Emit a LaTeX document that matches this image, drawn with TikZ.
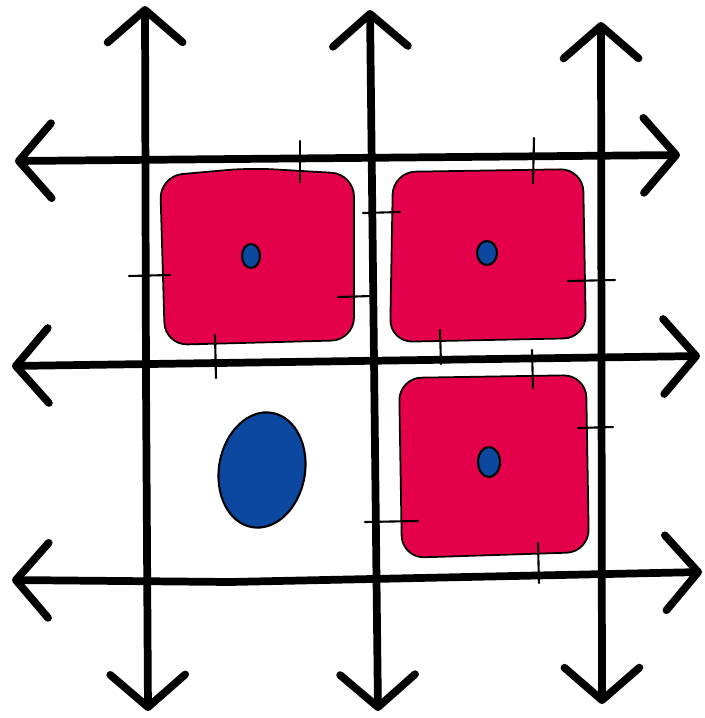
\documentclass[tikz,border=0pt]{standalone}
\usepackage{tikz}
\usetikzlibrary{arrows.meta}

\definecolor{cellred}{RGB}{228,0,74}
\definecolor{dotblue}{RGB}{12,72,160}

\begin{document}
\begin{tikzpicture}[x=0.02cm,y=-0.02cm,
        gridline/.style={line width=4.4pt,line cap=round,
            {Straight Barb[length=6.5mm,width=15mm,round]}-{Straight Barb[length=6.5mm,width=15mm,round]}},
        cell/.style={fill=cellred,draw=black,line width=1pt,rounded corners=0.45cm},
        dot/.style={fill=dotblue,draw=black,line width=1.2pt},
        tick/.style={line width=1.2pt,line cap=round}]
        \useasboundingbox (0,0) rectangle (705,718);
        \fill[white] (0,0) rectangle (705,718);

        % red cells
        \filldraw[cell] (160,176) -- (250,168) -- (354,174) -- (354,340) -- (165,345) -- cycle;
        \filldraw[cell] (393,172) -- (583,169) -- (586,338) -- (390,342) -- cycle;
        \filldraw[cell] (399,378) -- (586,375) -- (589,552) -- (402,558) -- cycle;

        % blue dots
        \filldraw[dot] (251,256) ellipse (9 and 12);
        \filldraw[dot] (487,253) ellipse (10 and 12);
        \filldraw[dot] (489,462) ellipse (11 and 15);
        \filldraw[dot,rotate around={-10:(262,470)}] (262,470) ellipse (43 and 58);

        % axes
        \draw[gridline] (148,711) -- (146,380) -- (145,6);
        \draw[gridline] (378,711) -- (374,360) -- (370,10);
        \draw[gridline] (602,704) -- (601,22);
        \draw[gridline] (15,161) -- (680,155);
        \draw[gridline] (12,366) -- (700,356);
        \draw[gridline] (12,580) -- (230,582) -- (702,572);

        % ticks
        \draw[tick] (300,141) -- (300,182);
        \draw[tick] (129,276) -- (170,275);
        \draw[tick] (338,297) -- (372,296);
        \draw[tick] (215,335) -- (216,378);
        \draw[tick] (363,213) -- (400,212);
        \draw[tick] (534,138) -- (533,183);
        \draw[tick] (568,281) -- (615,280);
        \draw[tick] (440,330) -- (441,364);
        \draw[tick] (532,350) -- (533,388);
        \draw[tick] (578,428) -- (613,427);
        \draw[tick] (365,522) -- (418,521);
        \draw[tick] (538,543) -- (539,583);
    \end{tikzpicture}
\end{document}
